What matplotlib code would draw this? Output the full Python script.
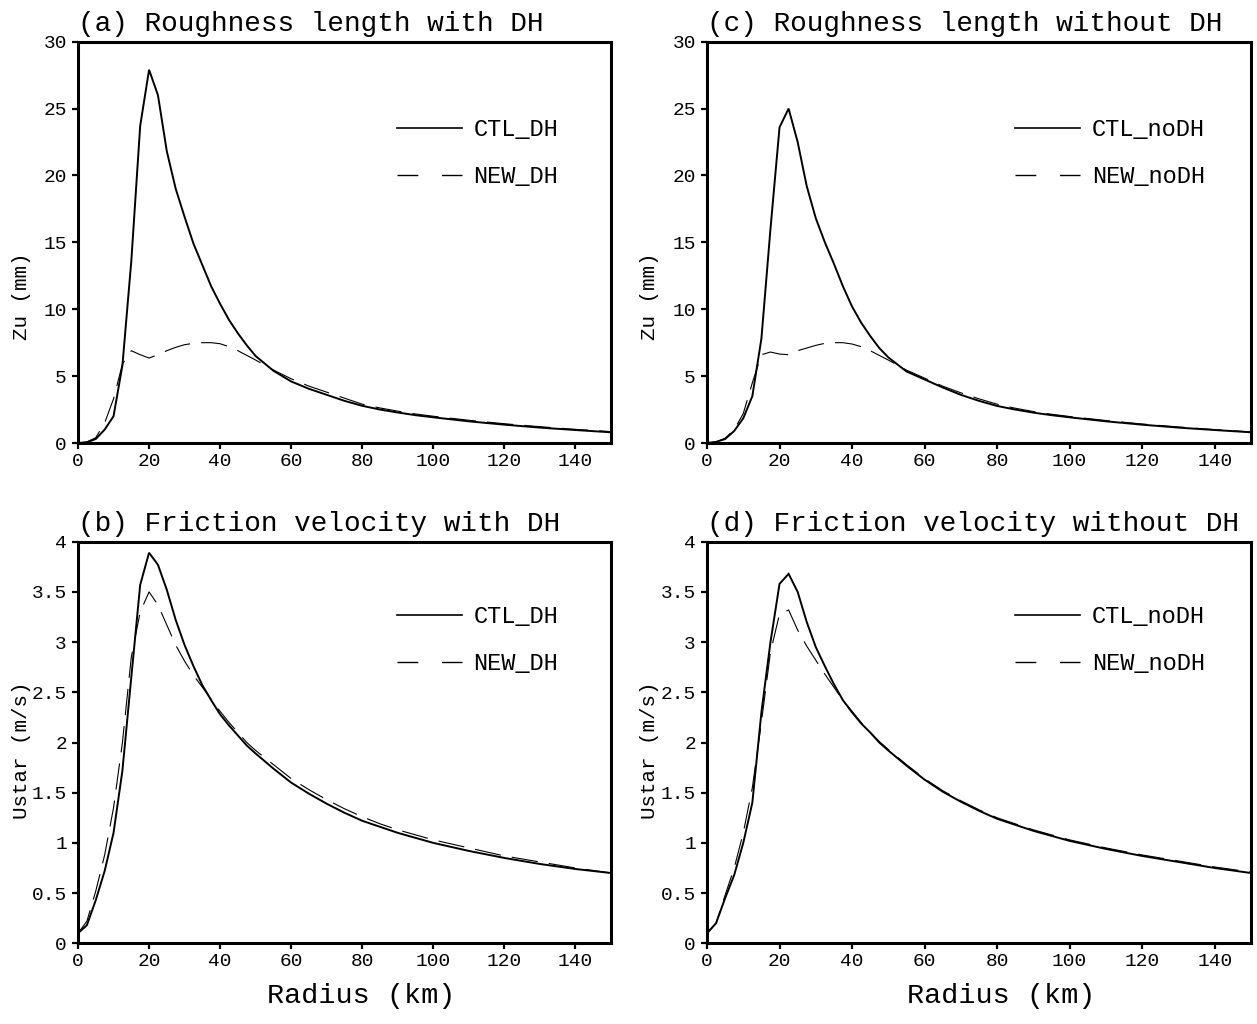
import matplotlib
matplotlib.use("Agg")
import matplotlib.pyplot as plt
from matplotlib.lines import Line2D

plt.rcParams['font.family'] = ['Liberation Mono', 'DejaVu Sans']
plt.rcParams['lines.scale_dashes'] = False

radius = [0, 2.5, 5, 7.5, 10, 12.5, 15, 17.5, 20, 22.5, 25, 27.5, 30, 32.5, 35,
          37.5, 40, 42.5, 45, 47.5, 50, 55, 60, 65, 70, 75, 80, 85, 90, 95, 100,
          110, 120, 130, 140, 150]

zu_ctl_dh = [0, 0.05, 0.3, 1.0, 2.0, 5.8, 13.6, 23.7, 27.9, 26.0, 21.8, 19.0, 16.9,
             14.9, 13.3, 11.7, 10.4, 9.2, 8.2, 7.3, 6.5, 5.4, 4.6, 4.05, 3.6, 3.15,
             2.78, 2.5, 2.28, 2.08, 1.92, 1.62, 1.37, 1.15, 0.97, 0.8]
zu_new_dh = [0, 0.08, 0.4, 1.5, 3.3, 5.9, 6.9, 6.6, 6.35, 6.6, 6.9, 7.15, 7.35, 7.45,
             7.5, 7.5, 7.42, 7.2, 6.9, 6.55, 6.2, 5.45, 4.8, 4.25, 3.8, 3.35, 2.9,
             2.62, 2.38, 2.17, 2.0, 1.7, 1.44, 1.22, 1.02, 0.85]
zu_ctl_nodh = [0, 0.08, 0.3, 0.9, 1.85, 3.5, 7.8, 16.0, 23.6, 25.0, 22.5, 19.2, 16.8,
               15.0, 13.4, 11.7, 10.2, 9.0, 8.0, 7.1, 6.4, 5.35, 4.75, 4.15, 3.6,
               3.15, 2.77, 2.5, 2.27, 2.08, 1.92, 1.62, 1.37, 1.15, 0.97, 0.8]
zu_new_nodh = [0, 0.08, 0.35, 1.0, 2.2, 4.5, 6.6, 6.8, 6.65, 6.6, 6.9, 7.1, 7.3, 7.45,
               7.5, 7.5, 7.4, 7.2, 6.9, 6.55, 6.2, 5.45, 4.85, 4.25, 3.75, 3.3, 2.9,
               2.6, 2.35, 2.15, 1.98, 1.68, 1.42, 1.2, 1.0, 0.83]

ustar_ctl_dh = [0.1, 0.18, 0.43, 0.72, 1.1, 1.72, 2.65, 3.57, 3.89, 3.77, 3.52, 3.22,
                2.97, 2.76, 2.57, 2.42, 2.28, 2.17, 2.07, 1.97, 1.89, 1.74, 1.6, 1.49,
                1.39, 1.3, 1.22, 1.16, 1.1, 1.05, 1.0, 0.92, 0.85, 0.79, 0.74, 0.7]
ustar_new_dh = [0.1, 0.22, 0.52, 0.88, 1.35, 2.0, 2.85, 3.3, 3.5, 3.37, 3.17, 2.97,
                2.81, 2.67, 2.55, 2.43, 2.31, 2.2, 2.1, 2.0, 1.92, 1.78, 1.64, 1.53,
                1.43, 1.34, 1.26, 1.19, 1.13, 1.08, 1.03, 0.95, 0.87, 0.81, 0.75, 0.7]
ustar_ctl_nodh = [0.1, 0.2, 0.45, 0.68, 1.0, 1.4, 2.3, 3.0, 3.58, 3.68, 3.5, 3.2,
                  2.95, 2.76, 2.58, 2.42, 2.3, 2.19, 2.1, 2.0, 1.92, 1.77, 1.63, 1.51,
                  1.41, 1.32, 1.24, 1.18, 1.12, 1.07, 1.02, 0.94, 0.87, 0.81, 0.75, 0.7]
ustar_new_nodh = [0.1, 0.2, 0.48, 0.75, 1.1, 1.55, 2.2, 2.9, 3.28, 3.32, 3.12, 2.96,
                  2.82, 2.68, 2.55, 2.42, 2.31, 2.2, 2.1, 2.01, 1.93, 1.78, 1.64, 1.52,
                  1.42, 1.33, 1.25, 1.19, 1.13, 1.08, 1.03, 0.95, 0.88, 0.82, 0.76, 0.71]

titles = ["(a) Roughness length with DH", "(b) Friction velocity with DH",
          "(c) Roughness length without DH", "(d) Friction velocity without DH"]
xticks = [0, 20, 40, 60, 80, 100, 120, 140]
zu_ticks = [0, 5, 10, 15, 20, 25, 30]
ustar_ticks = [0, 0.5, 1, 1.5, 2, 2.5, 3, 3.5, 4]
ustar_ticklabels = ["0", "0.5", "1", "1.5", "2", "2.5", "3", "3.5", "4"]

W, H = 1257, 1024
fig = plt.figure(figsize=(W / 100, H / 100), dpi=100)

def px_axes(l, r, t, b):
    return fig.add_axes([l / W, 1 - b / H, (r - l) / W, (b - t) / H])

ax_a = px_axes(78, 611, 41.7, 443)
ax_c = px_axes(707, 1251, 41.7, 443)
ax_b = px_axes(78, 611, 541.7, 943.3)
ax_d = px_axes(707, 1251, 541.7, 943.3)

panels = [
    (ax_a, zu_ctl_dh, zu_new_dh, "CTL_DH", "NEW_DH", titles[0], "Zu (mm)", False, 0.598, 0.531),
    (ax_b, ustar_ctl_dh, ustar_new_dh, "CTL_DH", "NEW_DH", titles[1], "Ustar (m/s)", True, 0.598, 0.531),
    (ax_c, zu_ctl_nodh, zu_new_nodh, "CTL_noDH", "NEW_noDH", titles[2], "Zu (mm)", False, 0.566, 0.540),
    (ax_d, ustar_ctl_nodh, ustar_new_nodh, "CTL_noDH", "NEW_noDH", titles[3], "Ustar (m/s)", True, 0.566, 0.540),
]

for ax, ctl, new, lab1, lab2, title, ylab, is_ustar, leg_x, xlab_x in panels:
    ax.plot(radius, ctl, color='black', lw=1.4, solid_joinstyle='miter')
    ax.plot(radius, new, color='black', lw=0.8, dashes=(19, 8))
    ax.set_xlim(0, 150)
    ax.set_xticks(xticks)
    if is_ustar:
        ax.set_ylim(0, 4)
        ax.set_yticks(ustar_ticks)
        ax.set_yticklabels(ustar_ticklabels)
        ax.set_xlabel("Radius (km)", fontsize=20.5)
        ax.xaxis.set_label_coords(xlab_x, -0.1)
        leg_y = 0.755
        ylab_y = 0.481
    else:
        ax.set_ylim(0, 30)
        ax.set_yticks(zu_ticks)
        leg_y = 0.722
        ylab_y = 0.366
    ax.set_ylabel(ylab, fontsize=15)
    ax.yaxis.set_label_coords(-0.088, ylab_y)
    ax.set_title(title, loc='left', fontsize=20, pad=7.5)
    for s in ax.spines.values():
        s.set_linewidth(2.2)
    ax.tick_params(direction='out', length=4, width=1.6, labelsize=14)
    ax.tick_params(axis='y', pad=4)
    ax.tick_params(axis='x', pad=3)
    handles = [Line2D([], [], color='black', lw=1.2),
               Line2D([], [], color='black', lw=1.0, dashes=(15, 17))]
    ax.legend(handles, [lab1, lab2], loc='center left', bbox_to_anchor=(leg_x, leg_y),
              frameon=False, fontsize=17, handlelength=2.75, handletextpad=0.5,
              labelspacing=1.0, borderaxespad=0, borderpad=0)

fig.savefig("out.png", dpi=100)
